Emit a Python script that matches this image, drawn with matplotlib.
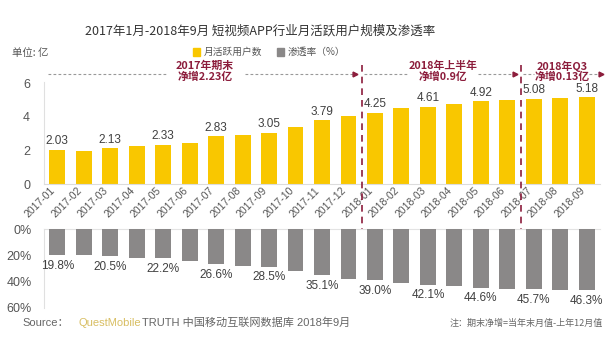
import matplotlib
matplotlib.use("Agg")
import matplotlib.pyplot as plt
from matplotlib.patches import Rectangle
from matplotlib.transforms import blended_transform_factory

plt.rcParams['font.family'] = ['Noto Sans CJK SC', 'DejaVu Sans']

months = ["2017-01", "2017-02", "2017-03", "2017-04", "2017-05", "2017-06", "2017-07",
          "2017-08", "2017-09", "2017-10", "2017-11", "2017-12", "2018-01", "2018-02",
          "2018-03", "2018-04", "2018-05", "2018-06", "2018-07", "2018-08", "2018-09"]
mau = [2.03, 1.97, 2.13, 2.25, 2.33, 2.42, 2.83, 2.93, 3.05, 3.42, 3.79, 4.08,
       4.25, 4.52, 4.61, 4.75, 4.92, 5.02, 5.08, 5.13, 5.18]
penetration = [19.8, 19.4, 20.5, 21.5, 22.2, 24.0, 26.6, 28.0, 28.5, 32.0, 35.1, 37.8,
               39.0, 41.2, 42.1, 43.0, 44.6, 45.2, 45.7, 46.0, 46.3]
labeled_idx = [0, 2, 4, 6, 8, 10, 12, 14, 16, 18, 20]
period_texts = ["2017年期末\n净增2.23亿", "2018年上半年\n净增0.9亿", "2018年Q3\n净增0.13亿"]

YELLOW = "#F9C700"
GRAY = "#8A8888"
MAROON = "#8C1D3C"
TXT = "#555555"
LAT = ['Liberation Sans', 'DejaVu Sans']

W, H = 615, 356
fig = plt.figure(figsize=(W / 100, H / 100), dpi=100)

def fx(px):
    return px / W

def fy(py):
    return 1 - py / H

# top axes
ax1 = fig.add_axes([fx(44), fy(184), fx(600) - fx(44), fy(66.5) - fy(184)])
x = list(range(len(months)))
ax1.bar(x, mau, width=0.6, color=YELLOW, zorder=2)
ax1.set_xlim(-0.5, len(months) - 0.5)
ax1.set_ylim(0, 7)
ax1.set_yticks([0, 2, 4, 6])
ax1.set_yticklabels(["0", "2", "4", "6"], family=LAT)
ax1.set_xticks(x)
ax1.set_xticklabels(months, rotation=45, ha='right', rotation_mode='default', family=LAT)
ax1.tick_params(axis='x', length=0, pad=1, labelsize=7.5, colors=TXT)
ax1.tick_params(axis='y', length=0, pad=10, labelsize=9, colors=TXT)
for s in ['top', 'right']:
    ax1.spines[s].set_visible(False)
ax1.spines['left'].set_color('#e0e0e0')
ax1.spines['bottom'].set_color('#dcdcdc')
ax1.spines['left'].set_bounds(0, 6.1)
for i in labeled_idx:
    ax1.text(i, mau[i] + 0.15, f"{mau[i]:.2f}", ha='center', va='bottom',
             fontsize=8.5, color='#404040', family=LAT)

# bottom axes
ax2 = fig.add_axes([fx(44), fy(308), fx(600) - fx(44), fy(229.3) - fy(308)])
ax2.bar(x, penetration, width=0.6, color=GRAY, zorder=2)
ax2.set_xlim(-0.5, len(months) - 0.5)
ax2.set_ylim(60, 0)
ax2.set_yticks([0, 20, 40, 60])
ax2.set_yticklabels(["0%", "20%", "40%", "60%"], family=LAT)
ax2.set_xticks([])
ax2.tick_params(axis='y', length=0, pad=9, labelsize=9, colors=TXT)
for s in ['top', 'right', 'bottom']:
    ax2.spines[s].set_visible(False)
ax2.spines['left'].set_color('#e0e0e0')
ax2.axhline(0, color='#e3e3e3', lw=0.8, zorder=1, clip_on=False)
for i in labeled_idx:
    ax2.text(i, penetration[i] + 3.5, f"{penetration[i]:.1f}%", ha='center', va='top',
             fontsize=8.5, color='#404040', family=LAT)

# vertical dashed separators
trans = blended_transform_factory(ax1.transData, fig.transFigure)
for xv in [11.5, 17.5]:
    ax1.plot([xv, xv], [fy(65), fy(298)], transform=trans, clip_on=False,
             color=MAROON, lw=1.2, ls=(0, (4, 3)), zorder=5)

# period annotations
ya = 6.55
segments = [
    [(-0.35, 4.1), (7.1, 11.25)],
    [(11.6, 13.3), (15.9, 17.3)],
    [(17.6, 18.0), (19.9, 20.55)],
]
text_x = [5.58, 14.57, 19.06]
for segs, tx, t in zip(segments, text_x, period_texts):
    for a, b in segs:
        ax1.plot([a, b], [ya, ya], color='#999999', lw=0.8, ls=(0, (2.5, 2)), clip_on=False)
    ax1.plot([segs[-1][1]], [ya], marker='>', color=MAROON, markersize=3.5, clip_on=False)
    ax1.text(tx, ya + 0.15, t, ha='center', va='center', fontsize=7.8, fontweight='bold',
             color=MAROON, linespacing=1.05, clip_on=False)

# title and header texts
fig.text(fx(260), fy(31), "2017年1月-2018年9月 短视频APP行业月活跃用户规模及渗透率",
         ha='center', va='center', fontsize=9, color='#333333')
fig.text(fx(12), fy(53), "单位: 亿", ha='left', va='center', fontsize=7.5, color=TXT)
fig.patches.append(Rectangle((fx(193), fy(56)), fx(7), fy(48) - fy(56),
                             transform=fig.transFigure, color=YELLOW, figure=fig))
fig.text(fx(204), fy(52), "月活跃用户数", ha='left', va='center', fontsize=7, color=TXT)
fig.patches.append(Rectangle((fx(277), fy(56)), fx(7), fy(48) - fy(56),
                             transform=fig.transFigure, color=GRAY, figure=fig))
fig.text(fx(288), fy(52), "渗透率（%）", ha='left', va='center', fontsize=7, color=TXT)

# source & note (placed sequentially)
renderer = fig.canvas.get_renderer()
xpos = fx(22)
for s, c, gap in [("Source：", '#666666', 10), ("QuestMobile", '#D8BE62', 1),
                  ("TRUTH 中国移动互联网数据库 2018年9月", '#666666', 0)]:
    t = fig.text(xpos, fy(323), s, ha='left', va='center', fontsize=8, color=c,
                 family=['Liberation Sans', 'Noto Sans CJK SC'])
    bb = t.get_window_extent(renderer)
    xpos = (bb.x1 + gap) / W
fig.text(fx(450), fy(323), "注：期末净增=当年末月值-上年12月值", ha='left', va='center',
         fontsize=6.5, color='#666666')

fig.savefig("out.png", dpi=100)
